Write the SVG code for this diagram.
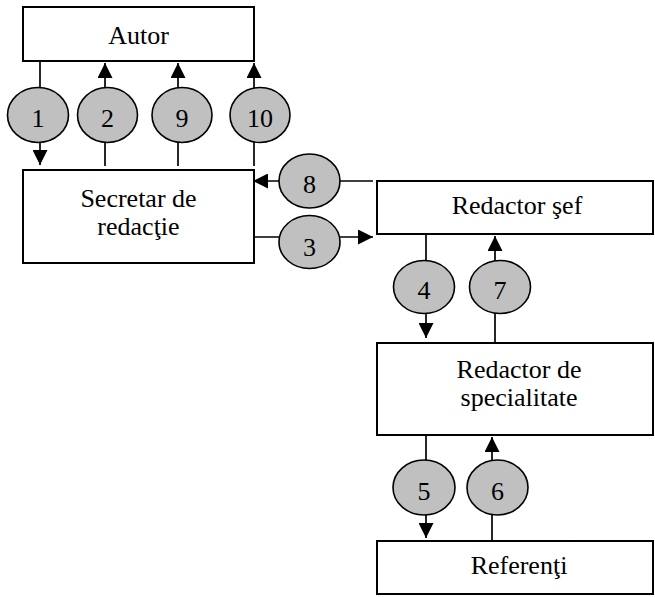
<svg xmlns="http://www.w3.org/2000/svg" width="655" height="597" viewBox="0 0 655 597">
<style>
.box{fill:#fff;stroke:#000;stroke-width:2}
.txt{font-family:"Liberation Serif","Times New Roman",serif;font-size:26px;fill:#000;text-anchor:middle}
.ell{fill:#c0c0c0;stroke:#000;stroke-width:1.6}
.con{stroke:#000;stroke-width:1.7;fill:none}
.arr{marker-end:url(#ah)}
</style>
<defs>
<marker id="ah" markerUnits="userSpaceOnUse" markerWidth="15" markerHeight="15" refX="15" refY="7.5" orient="auto" viewBox="0 0 15 15">
<path d="M0,0 L15,7.5 L0,15 z" fill="#000"/>
</marker>
</defs>
<rect width="655" height="597" fill="#fff"/>
<g id="connectors">
<line class="con arr" x1="40" y1="61" x2="40" y2="165"/>
<line class="con arr" x1="105" y1="166" x2="105" y2="63"/>
<line class="con arr" x1="178" y1="166" x2="178" y2="63"/>
<line class="con arr" x1="254" y1="166" x2="254" y2="63"/>
<line class="con arr" x1="373" y1="181" x2="253" y2="181"/>
<line class="con arr" x1="251" y1="237" x2="373" y2="237"/>
<line class="con arr" x1="426" y1="234" x2="426" y2="338"/>
<line class="con arr" x1="495" y1="342" x2="495" y2="236"/>
<line class="con arr" x1="426" y1="435" x2="426" y2="538"/>
<line class="con arr" x1="492" y1="541" x2="492" y2="437"/>
</g>
<g id="autor"><rect class="box" x="23" y="7" width="231" height="54"/><text class="txt" x="138.5" y="44">Autor</text></g>
<g id="secretar"><rect class="box" x="23" y="170" width="231" height="93"/><text class="txt" x="138.5" y="207">Secretar de</text><text class="txt" x="138.5" y="235">redacţie</text></g>
<g id="redactor-sef"><rect class="box" x="377" y="181" width="276" height="53"/><text class="txt" x="517" y="214">Redactor şef</text></g>
<g id="redactor-spec"><rect class="box" x="377" y="343" width="276" height="92"/><text class="txt" x="519" y="378">Redactor de</text><text class="txt" x="519" y="406">specialitate</text></g>
<g id="referenti"><rect class="box" x="377" y="541" width="276" height="53"/><text class="txt" x="519" y="574">Referenţi</text></g>
<g id="e1"><ellipse class="ell" cx="38" cy="115" rx="30.5" ry="27.5"/><text class="txt" x="38" y="127">1</text></g>
<g id="e2"><ellipse class="ell" cx="107.5" cy="115" rx="30" ry="27.5"/><text class="txt" x="107.5" y="127">2</text></g>
<g id="e9"><ellipse class="ell" cx="182" cy="115" rx="30" ry="27.5"/><text class="txt" x="182" y="127">9</text></g>
<g id="e10"><ellipse class="ell" cx="260" cy="115" rx="30" ry="27.5"/><text class="txt" x="260" y="127">10</text></g>
<g id="e8"><ellipse class="ell" cx="309.5" cy="181" rx="30.5" ry="27"/><text class="txt" x="309.5" y="193">8</text></g>
<g id="e3"><ellipse class="ell" cx="309.5" cy="242" rx="30.5" ry="26.5"/><text class="txt" x="309.5" y="256">3</text></g>
<g id="e4"><ellipse class="ell" cx="424" cy="287" rx="30.5" ry="26.5"/><text class="txt" x="424" y="299">4</text></g>
<g id="e7"><ellipse class="ell" cx="500" cy="287" rx="30.5" ry="26.5"/><text class="txt" x="500" y="299">7</text></g>
<g id="e5"><ellipse class="ell" cx="424" cy="487.5" rx="31" ry="27.5"/><text class="txt" x="424" y="500">5</text></g>
<g id="e6"><ellipse class="ell" cx="497.5" cy="487.5" rx="30.5" ry="27.5"/><text class="txt" x="497.5" y="500">6</text></g>
</svg>
